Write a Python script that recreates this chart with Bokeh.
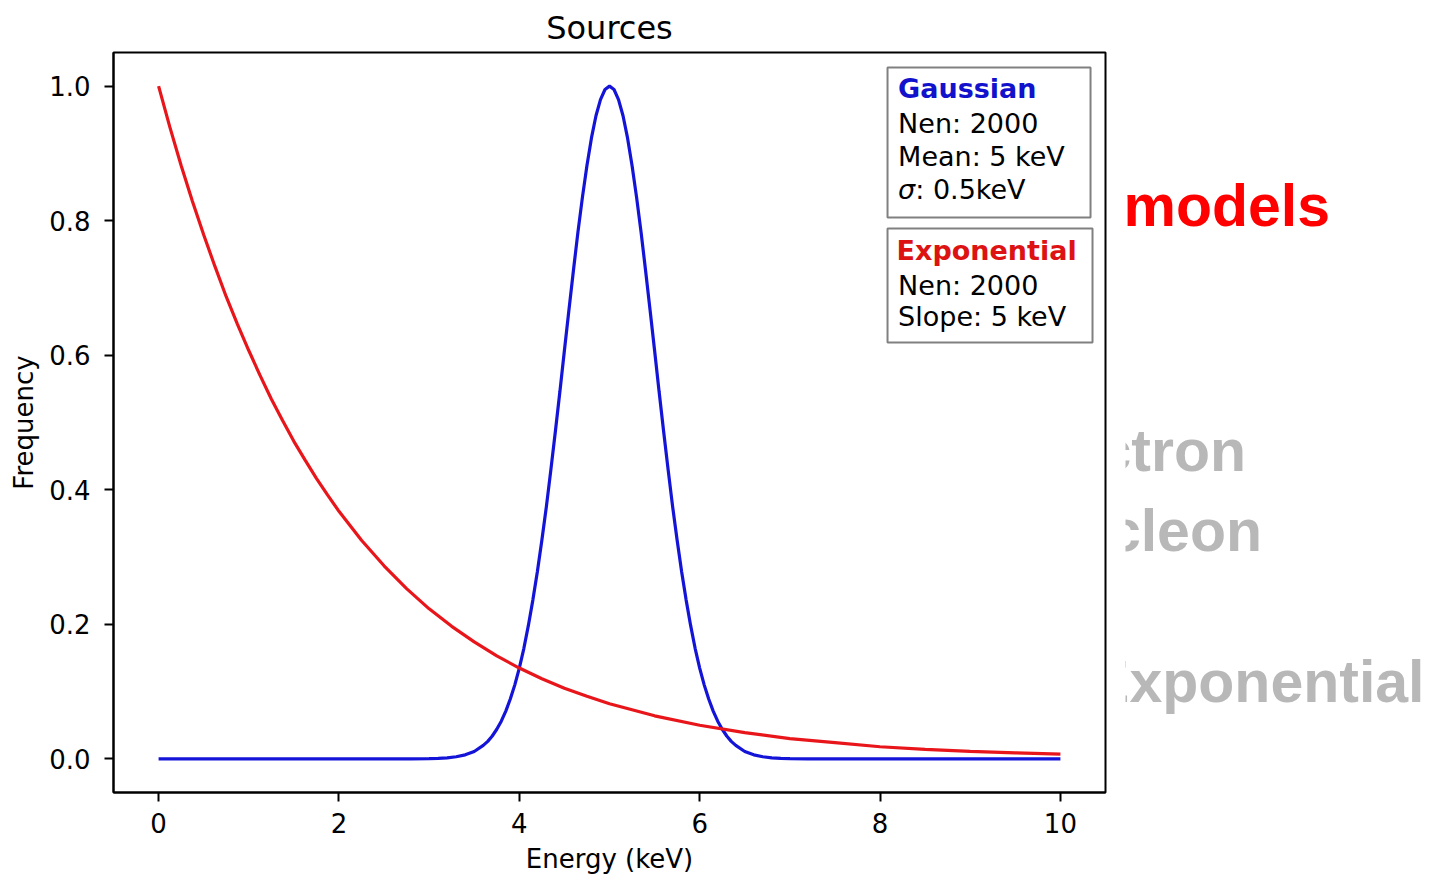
from bokeh.plotting import figure
from bokeh.models import Range1d, Label, BoxAnnotation, FixedTicker, PrintfTickFormatter
from bokeh.layouts import row
from bokeh.embed import file_html
from bokeh.resources import INLINE

# ---- data ----
gauss_energy = [0.0, 1.0, 2.0, 2.5, 2.8, 3.0, 3.1, 3.2, 3.3, 3.4, 3.5, 3.6, 3.65, 3.7, 3.75,
                3.8, 3.85, 3.9, 3.95, 4.0, 4.05, 4.1, 4.15, 4.2, 4.25, 4.3, 4.35, 4.4, 4.45,
                4.5, 4.55, 4.6, 4.65, 4.7, 4.75, 4.8, 4.85, 4.9, 4.95, 5.0, 5.05, 5.1, 5.15,
                5.2, 5.25, 5.3, 5.35, 5.4, 5.45, 5.5, 5.55, 5.6, 5.65, 5.7, 5.75, 5.8, 5.85,
                5.9, 5.95, 6.0, 6.05, 6.1, 6.15, 6.2, 6.25, 6.3, 6.35, 6.4, 6.5, 6.6, 6.7,
                6.8, 6.9, 7.0, 7.2, 7.5, 8.0, 9.0, 10.0]
gauss_freq = [0.0, 0.0, 0.0, 0.0, 0.0001, 0.0003, 0.0007, 0.0015, 0.0031, 0.006, 0.011, 0.020,
              0.026, 0.034, 0.044, 0.056, 0.071, 0.089, 0.110, 0.135, 0.164, 0.198, 0.236,
              0.278, 0.325, 0.375, 0.430, 0.487, 0.546, 0.607, 0.667, 0.726, 0.783, 0.835,
              0.882, 0.923, 0.956, 0.980, 0.995, 1.0, 0.995, 0.980, 0.956, 0.923, 0.882,
              0.835, 0.783, 0.726, 0.667, 0.607, 0.546, 0.487, 0.430, 0.375, 0.325, 0.278,
              0.236, 0.198, 0.164, 0.135, 0.110, 0.089, 0.071, 0.056, 0.044, 0.034, 0.026,
              0.020, 0.011, 0.006, 0.0031, 0.0015, 0.0007, 0.0003, 0.0001, 0.0, 0.0, 0.0, 0.0]

expo_energy = [0.0, 0.125, 0.25, 0.375, 0.5, 0.625, 0.75, 0.875, 1.0, 1.125, 1.25, 1.375,
               1.5, 1.625, 1.75, 1.875, 2.0, 2.25, 2.5, 2.75, 3.0, 3.25, 3.5, 3.75, 4.0,
               4.25, 4.5, 4.75, 5.0, 5.5, 6.0, 6.5, 7.0, 7.5, 8.0, 8.5, 9.0, 9.5, 10.0]
expo_freq = [1.0, 0.939, 0.882, 0.829, 0.779, 0.732, 0.687, 0.646, 0.607, 0.570, 0.535, 0.503,
             0.472, 0.444, 0.417, 0.392, 0.368, 0.325, 0.287, 0.253, 0.223, 0.197, 0.174,
             0.153, 0.135, 0.119, 0.105, 0.093, 0.082, 0.064, 0.050, 0.039, 0.030, 0.024,
             0.018, 0.014, 0.011, 0.009, 0.007]

x_ticks = [0, 2, 4, 6, 8, 10]
y_ticks = [0.0, 0.2, 0.4, 0.6, 0.8, 1.0]

title_text = "Sources"
x_label = "Energy (keV)"
y_label = "Frequency"

gauss_lines = ["Gaussian", "Nen: 2000", "Mean: 5 keV", "σ", ": 0.5keV"]
expo_lines = ["Exponential", "Nen: 2000", "Slope: 5 keV"]
side_words = ["models", "Electron", "Nucleon", "Exponential"]

FONT = "DejaVu Sans"
RED = "#e8161b"
BLUE = "#1414d8"

MAIN_W, H = 1125, 876
p = figure(width=MAIN_W, height=H, x_range=Range1d(-0.5, 10.5), y_range=Range1d(-0.05, 1.05),
           toolbar_location=None, output_backend="svg",
           min_border_left=113, min_border_right=20, min_border_top=52, min_border_bottom=84)
p.background_fill_color = "white"
p.border_fill_color = "white"
p.outline_line_color = "black"
p.outline_line_width = 2
p.grid.visible = False

p.title.text = title_text
p.title.align = "center"
p.title.text_font = FONT
p.title.text_font_size = "32px"
p.title.text_font_style = "normal"
p.title.text_color = "black"
p.title.standoff = 12

for ax in (p.xaxis[0], p.yaxis[0]):
    ax.axis_line_width = 2
    ax.axis_line_color = "black"
    ax.major_tick_line_width = 2
    ax.major_tick_line_color = "black"
    ax.major_tick_out = 9
    ax.major_tick_in = 0
    ax.minor_tick_line_color = None
    ax.major_label_text_font = FONT
    ax.major_label_text_font_size = "26px"
    ax.major_label_text_color = "black"
    ax.axis_label_text_font = FONT
    ax.axis_label_text_font_size = "26px"
    ax.axis_label_text_font_style = "normal"
    ax.axis_label_text_color = "black"

p.xaxis.ticker = FixedTicker(ticks=x_ticks)
p.yaxis.ticker = FixedTicker(ticks=y_ticks)
p.yaxis.formatter = PrintfTickFormatter(format="%.1f")
p.xaxis.axis_label = x_label
p.yaxis.axis_label = y_label
p.xaxis.major_label_standoff = 11
p.yaxis.major_label_standoff = 14
p.xaxis.axis_label_standoff = 8
p.yaxis.axis_label_standoff = 7

p.line(gauss_energy, gauss_freq, line_color=BLUE, line_width=3.2)
p.line(expo_energy, expo_freq, line_color=RED, line_width=3.2)

# text boxes
p.add_layout(BoxAnnotation(left=8.083, right=10.334, top=1.0277, bottom=0.8047,
                           fill_color="white", fill_alpha=1.0,
                           line_color="#808080", line_width=2, line_alpha=1.0))
p.add_layout(BoxAnnotation(left=8.083, right=10.356, top=0.7884, bottom=0.6189,
                           fill_color="white", fill_alpha=1.0,
                           line_color="#808080", line_width=2, line_alpha=1.0))

def lab(text, x, y, color="black", style="normal"):
    p.add_layout(Label(x=x, y=y, text=text, text_font=FONT, text_font_size="27px",
                       text_color=color, text_font_style=style, text_baseline="alphabetic",
                       text_align="left"))

lab(gauss_lines[0], 8.20, 0.997, color="#1212cc", style="bold")
lab(gauss_lines[1], 8.20, 0.945)
lab(gauss_lines[2], 8.20, 0.896)
lab(gauss_lines[3], 8.20, 0.847, style="italic")
lab(gauss_lines[4], 8.39, 0.847)
lab(expo_lines[0], 8.183, 0.756, color="#dd1212", style="bold")
lab(expo_lines[1], 8.20, 0.704)
lab(expo_lines[2], 8.20, 0.657)

# side panel with slide words; its frame is aligned by the row (observed top at 73, 740 tall)
SW = 299
side = figure(width=SW, height=H, x_range=Range1d(MAIN_W, MAIN_W + SW), y_range=Range1d(813, 73),
              toolbar_location=None, output_backend="svg", min_border=0,
              x_axis_location=None, y_axis_location=None)
side.grid.visible = False
side.outline_line_color = None
side.background_fill_color = "white"
side.border_fill_color = "white"

def slab(text, x, y, color, align):
    side.add_layout(Label(x=x, y=y, text=text, text_font="Liberation Sans", text_font_size="59px",
                          text_font_style="bold", text_color=color, text_align=align,
                          text_baseline="alphabetic"))

slab(side_words[0], 1123, 226, "#ff0000", "left")
slab(side_words[1], 1245.5, 471.5, "#b8b8b8", "right")
slab(side_words[2], 1261.5, 551, "#b8b8b8", "right")
slab(side_words[3], MAIN_W + SW, 702, "#b8b8b8", "right")

layout = row(p, side, spacing=0)
open("out.html", "w").write(file_html(layout, INLINE))
